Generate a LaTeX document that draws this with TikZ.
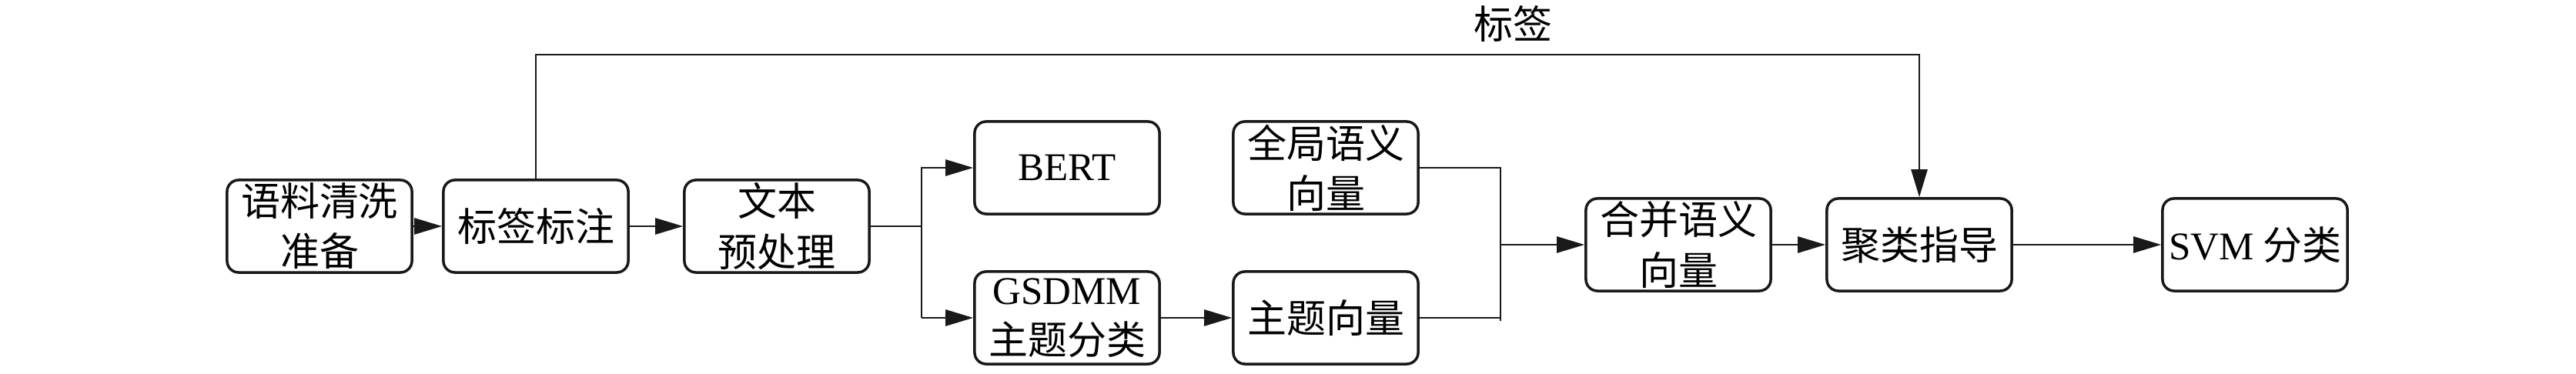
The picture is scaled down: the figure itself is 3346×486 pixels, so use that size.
\documentclass[tikz,border=0pt]{standalone}
\usepackage{fontspec}
\setmainfont{Liberation Serif}
\newfontfamily\cjk{Noto Sans CJK SC}
\usetikzlibrary{arrows.meta}
\tikzset{
  box/.style={draw=black!90, line width=1pt, rounded corners=0.15cm, minimum width=2.4cm, minimum height=1.2cm, align=center, inner sep=1pt, font={\fontsize{14.5pt}{18.5pt}\selectfont\cjk}},
  conn/.style={draw=black!90, line width=0.75pt},
  arr/.style={conn, -{Triangle[length=0.36cm,width=0.21cm]}},
  lbl/.style={font={\fontsize{14.5pt}{18.5pt}\selectfont\cjk}}
}
\begin{document}
\begin{tikzpicture}[x=0.01cm, y=-0.01cm]
\useasboundingbox (0,0) rectangle (3346,486);
\node[box] (n1) at (415,294) {语料清洗\\准备};
\node[box] (n2) at (696,294) {标签标注};
\node[box] (n3) at (1009,294) {文本\\预处理};
\node[box] (bert) at (1386,218) {\rmfamily BERT};
\node[box] (gsdmm) at (1386,413) {\rmfamily GSDMM\\主题分类};
\node[box] (glob) at (1722,218) {全局语义\\向量};
\node[box] (topic) at (1722,413) {主题向量};
\node[box] (merge) at (2180,318) {合并语义\\向量};
\node[box] (clus) at (2493,318) {聚类指导};
\node[box] (svm) at (2929,318) {{\rmfamily SVM} 分类};

\coordinate (split) at (1197,294);
\coordinate (splitU) at (1197,218);
\coordinate (splitD) at (1197,413);
\coordinate (joinU) at (1949,218);
\coordinate (joinD) at (1949,417);
\coordinate (joinT) at (1949,413);
\coordinate (joinM) at (1949,318);
\coordinate (topL) at (696,71);
\coordinate (topR) at (2493,71);

\draw[arr] (n1) -- (n2);
\draw[arr] (n2) -- (n3);
\draw[conn] (n3.east) -- (split);
\draw[arr] (splitD) -- (splitU) -- (bert.west);
\draw[arr] (splitD) -- (gsdmm.west);
\draw[arr] (gsdmm) -- (topic);
\draw[conn] (glob.east) -- (joinU) -- (joinD);
\draw[conn] (topic.east) -- (joinT);
\draw[arr] (joinM) -- (merge.west);
\draw[arr] (merge) -- (clus);
\draw[arr] (clus) -- (svm);
\draw[arr] (n2.north) -- (topL) -- (topR) -- (clus.north);
\node[lbl] (tag) at (1965,31) {标签};
\end{tikzpicture}
\end{document}
